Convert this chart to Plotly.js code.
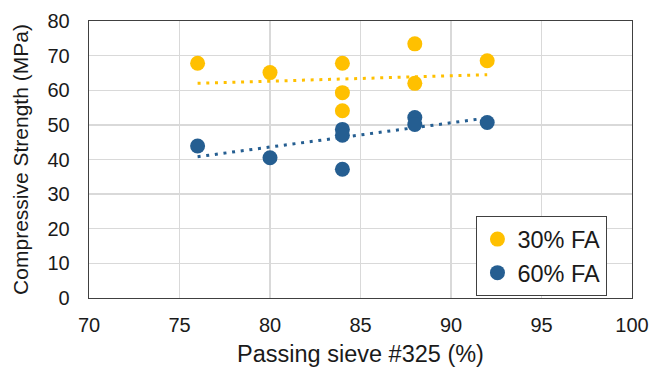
<!DOCTYPE html>
<html><head><meta charset="utf-8">
<script src="https://cdn.plot.ly/plotly-3.0.1.min.js"></script>
<style>html,body{margin:0;padding:0;background:#fff}#c{width:652px;height:369px}</style>
</head><body><div id="c"></div>
<script>
// 30% FA
const x30 = [76, 80, 84, 84, 84, 88, 88, 92];
const y30 = [67.8, 65.1, 67.8, 59.3, 54.1, 73.4, 62.0, 68.5];
// 60% FA
const x60 = [76, 80, 84, 84, 84, 88, 88, 92];
const y60 = [43.9, 40.5, 48.7, 47.0, 37.2, 52.1, 50.1, 50.7];
// trendlines
const trendX = [76, 92];
const trend30 = [62.0, 64.5];
const trend60 = [40.8, 52.0];
const xTicks = [70, 75, 80, 85, 90, 95, 100];
const yTicks = [0, 10, 20, 30, 40, 50, 60, 70, 80];

const C30 = '#FFC000', C60 = '#255E91';
const fam = '"Liberation Sans", Arial, sans-serif';
const tickFont = {family: fam, color: '#1a1a1a', size: 20};
const traces = [
  {x: trendX, y: trend30, mode: 'lines', line: {color: C30, width: 3, dash: '3px,5.7px'}, showlegend: false, hoverinfo: 'skip'},
  {x: trendX, y: trend60, mode: 'lines', line: {color: C60, width: 3, dash: '3px,5.7px'}, showlegend: false, hoverinfo: 'skip'},
  {x: x30, y: y30, mode: 'markers', name: '30% FA', marker: {color: C30, size: 15}},
  {x: x60, y: y60, mode: 'markers', name: '60% FA', marker: {color: C60, size: 15}}
];
const axisBase = {showline: true, mirror: true, linecolor: '#404040', linewidth: 1.3,
  showgrid: true, gridcolor: '#d9d9d9', gridwidth: 1.3, zeroline: false, ticks: '',
  tickfont: tickFont, automargin: false};
const layout = {
  width: 652, height: 369,
  margin: {l: 89, r: 20, t: 21, b: 71},
  paper_bgcolor: '#fff', plot_bgcolor: '#fff',
  font: tickFont,
  xaxis: Object.assign({}, axisBase, {range: [70, 100], tickvals: xTicks, ticktext: xTicks.map(String),
    ticklabelstandoff: 9,
    title: {text: 'Passing sieve #325 (%)', font: {family: fam, color: '#1a1a1a', size: 23.5}, standoff: 10}}),
  yaxis: Object.assign({}, axisBase, {range: [0, 80], tickvals: yTicks, ticktext: yTicks.map(String),
    ticklabelstandoff: 14,
    title: {text: 'Compressive Strength (MPa)', font: {family: fam, color: '#1a1a1a', size: 21}, standoff: 13}}),
  legend: {x: 0.713, y: 0.296, xanchor: 'left', yanchor: 'top', bordercolor: '#404040', borderwidth: 1.3,
    bgcolor: '#fff', font: {family: fam, size: 23.5, color: '#1a1a1a'}, itemwidth: 30, tracegroupgap: 2},
  showlegend: true
};
Plotly.newPlot('c', traces, layout, {staticPlot: true, displayModeBar: false});
</script></body></html>
